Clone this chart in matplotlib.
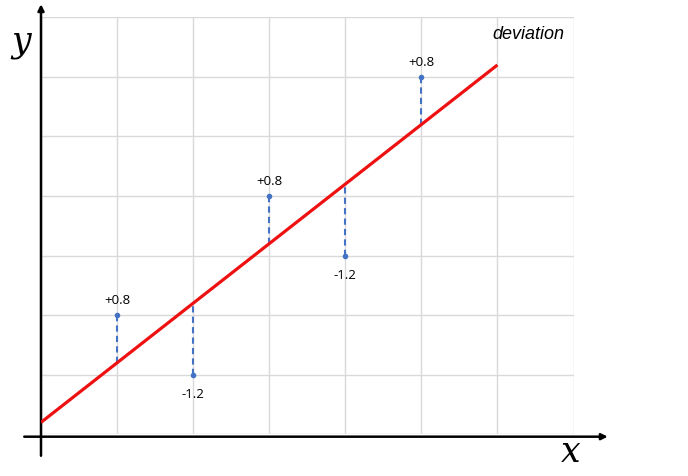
import numpy as np
import matplotlib
matplotlib.use("Agg")
import matplotlib.pyplot as plt

# observed points and the fitted line y = x + 0.2
xs = [1, 2, 3, 4, 5]
ys = [2, 1, 4, 3, 6]
slope = 1.0
intercept = 0.2
dev_labels = ["+0.8", "-1.2", "+0.8", "-1.2", "+0.8"]

fig = plt.figure(figsize=(6.88, 4.76), dpi=100)
ax = fig.add_axes([41 / 688, 1 - 434.3 / 476, 532.5 / 688, 417 / 476])

ax.set_xlim(0, 7)
ax.set_ylim(0, 7)
ax.set_xticks(range(0, 8))
ax.set_yticks(range(0, 8))
ax.grid(True, color="#d9d9d9", linewidth=1.0)
ax.tick_params(length=0, labelbottom=False, labelleft=False)
for s in ax.spines.values():
    s.set_visible(False)

# axes with arrows
ax.annotate("", xy=(7.45, -0.04), xytext=(-0.22, -0.04),
            arrowprops=dict(arrowstyle="-|>", color="black", lw=1.8,
                            mutation_scale=9, shrinkA=0, shrinkB=0),
            annotation_clip=False)
ax.annotate("", xy=(0, 7.22), xytext=(0, -0.36),
            arrowprops=dict(arrowstyle="-|>", color="black", lw=1.8,
                            mutation_scale=9, shrinkA=0, shrinkB=0),
            annotation_clip=False)

# regression line
lx = np.array([0, 6])
ax.plot(lx, slope * lx + intercept, color="#ee1111", lw=2.3, zorder=3,
        solid_capstyle="butt")

# deviations
for x, y, lab in zip(xs, ys, dev_labels):
    fit = slope * x + intercept
    ax.plot([x, x], [y, fit], color="#4472c4", lw=1.5, ls=(0, (3, 2)), zorder=2)
    ax.plot(x, y, "o", color="#4472c4", ms=3, zorder=4)
    if y > fit:
        ax.annotate(lab, (x, y), xytext=(0, 6), textcoords="offset points",
                    ha="center", va="bottom", fontsize=9.5, family="Open Sans")
    else:
        ax.annotate(lab, (x, y), xytext=(0, -9.5), textcoords="offset points",
                    ha="center", va="top", fontsize=9.5, family="Open Sans")

ax.text(6.875, 6.86, "deviation", ha="right", va="top", fontsize=13,
        style="italic", family="Liberation Sans")

fig.text(21 / 688, 1 - 42 / 476, "y", ha="center", va="center",
         fontsize=25, style="italic", family="DejaVu Serif")
fig.text(571 / 688, 1 - 452 / 476, "x", ha="center", va="center",
         fontsize=25, style="italic", family="DejaVu Serif")

fig.savefig("out.png", dpi=100)
